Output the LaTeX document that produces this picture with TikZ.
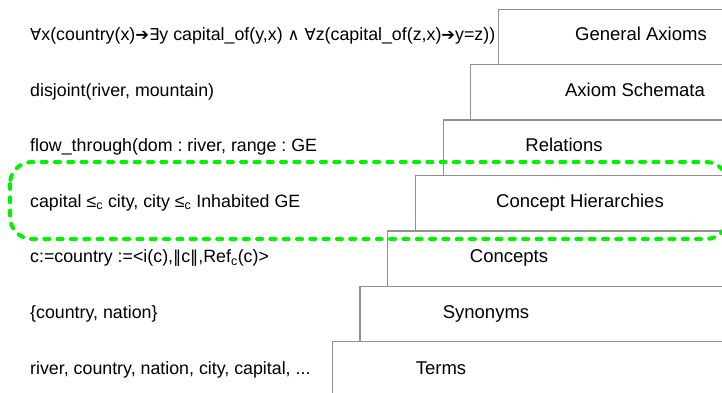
\documentclass[tikz,border=0pt]{standalone}
\usepackage{fontspec}
\setmainfont{Liberation Sans}
\newfontfamily\symfont[Scale=0.92]{DejaVu Sans}
\definecolor{layergray}{RGB}{145,145,145}
\definecolor{hlgreen}{RGB}{0,240,0}
\newcommand{\sy}[1]{{\symfont #1}}
\frenchspacing
\begin{document}
\begin{tikzpicture}[x=1pt,y=-1pt,
  lefttext/.style={anchor=base west, inner sep=0pt, font=\fontsize{17.8}{21}\selectfont},
  layerlabel/.style={anchor=base, inner sep=0pt, font=\fontsize{18.5}{22}\selectfont},
  layerbox/.style={draw=layergray, line width=1.2pt},
  highlight/.style={draw=hlgreen, line width=4pt, dash pattern=on 5pt off 8.3pt,
                    line cap=round, rounded corners=22pt}]
\useasboundingbox (0,0) rectangle (722,393);
\clip (0,0) rectangle (722,393);

% stepped layer boxes, open to the right
\foreach \i in {0,...,6} {
  \pgfmathsetmacro\lx{498.5-27.7*\i}
  \pgfmathsetmacro\ty{9.3+55.4*\i}
  \pgfmathsetmacro\by{\ty+55.4}
  \draw[layerbox] (\lx,\by) -- (\lx,\ty) -- (740,\ty);
}

% layer names
\node[layerlabel] (b1) at (641,40.5)  {General Axioms};
\node[layerlabel] (b2) at (635,96.1)  {Axiom Schemata};
\node[layerlabel] (b3) at (564,151.7) {Relations};
\node[layerlabel] (b4) at (580,207.3) {Concept Hierarchies};
\node[layerlabel] (b5) at (509,262.9) {Concepts};
\node[layerlabel] (b6) at (486,318.5) {Synonyms};
\node[layerlabel] (b7) at (441,374.1) {Terms};

% examples for each layer
\node[lefttext] (l1) at (30,40.5)
  {\sy{∀}x(country(x)\sy{➔}\sy{∃}y capital\_of(y,x) \sy{∧} \sy{∀}z(capital\_of(z,x)\sy{➔}y=z))};
\node[lefttext] (l2) at (30,96.1)  {disjoint(river, mountain)};
\node[lefttext] (l3) at (30,151.7) {flow\_through(dom : river, range : GE};
\node[lefttext] (l4) at (30,207.3)
  {capital ≤\textsubscript{c} city, city ≤\textsubscript{c} Inhabited GE};
\node[lefttext] (l5) at (30,262.9)
  {c:=country :=<i(c),\sy{‖}c\sy{‖},Ref\textsubscript{c}(c)>};
\node[lefttext] (l6) at (30,318.5) {\{country, nation\}};
\node[lefttext] (l7) at (30,374.1) {river, country, nation, city, capital, ...};

% highlighted concept-hierarchy row
\draw[highlight] (10,162) rectangle (728,239);
\end{tikzpicture}
\end{document}
